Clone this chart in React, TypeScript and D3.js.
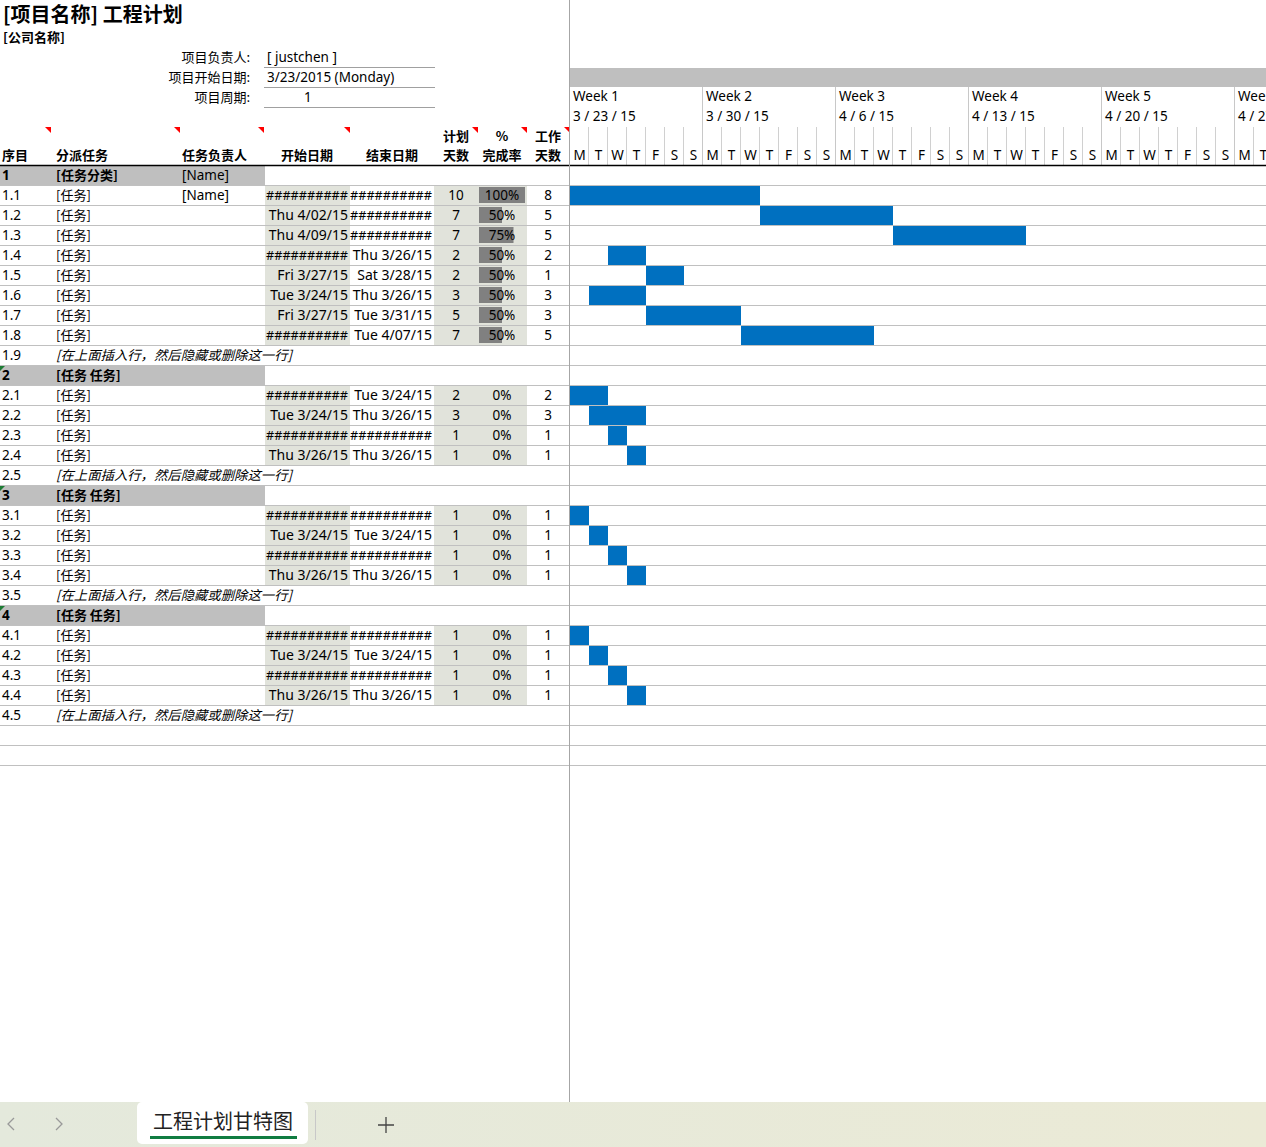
import React from 'react';
import * as d3 from 'd3';

const groupIds = ['1', '2', '3', '4'];
const groupNames = ['[任务分类]', '[任务 任务]', '[任务 任务]', '[任务 任务]'];
const groupOwners = ['[Name]', '', '', ''];
const groupSizes = [8, 4, 4, 4];
const noteIds = ['1.9', '2.5', '3.5', '4.5'];
const noteText = '[在上面插入行，然后隐藏或删除这一行]';

const taskIds = ['1.1', '1.2', '1.3', '1.4', '1.5', '1.6', '1.7', '1.8', '2.1', '2.2', '2.3', '2.4', '3.1', '3.2', '3.3', '3.4', '4.1', '4.2', '4.3', '4.4'];
const taskNames = ['[任务]', '[任务]', '[任务]', '[任务]', '[任务]', '[任务]', '[任务]', '[任务]', '[任务]', '[任务]', '[任务]', '[任务]', '[任务]', '[任务]', '[任务]', '[任务]', '[任务]', '[任务]', '[任务]', '[任务]'];
const taskOwners = ['[Name]', '', '', '', '', '', '', '', '', '', '', '', '', '', '', '', '', '', '', ''];
const H = '##########';
const startLabels = [H, 'Thu 4/02/15', 'Thu 4/09/15', H, 'Fri 3/27/15', 'Tue 3/24/15', 'Fri 3/27/15', H, H, 'Tue 3/24/15', H, 'Thu 3/26/15', H, 'Tue 3/24/15', H, 'Thu 3/26/15', H, 'Tue 3/24/15', H, 'Thu 3/26/15'];
const endLabels = [H, H, H, 'Thu 3/26/15', 'Sat 3/28/15', 'Thu 3/26/15', 'Tue 3/31/15', 'Tue 4/07/15', 'Tue 3/24/15', 'Thu 3/26/15', H, 'Thu 3/26/15', H, 'Tue 3/24/15', H, 'Thu 3/26/15', H, 'Tue 3/24/15', H, 'Thu 3/26/15'];
const startDays = [0, 10, 17, 2, 4, 1, 4, 9, 0, 1, 2, 3, 0, 1, 2, 3, 0, 1, 2, 3];
const planDays = [10, 7, 7, 2, 2, 3, 5, 7, 2, 3, 1, 1, 1, 1, 1, 1, 1, 1, 1, 1];
const percentDone = [100, 50, 75, 50, 50, 50, 50, 50, 0, 0, 0, 0, 0, 0, 0, 0, 0, 0, 0, 0];
const workDays = [8, 5, 5, 2, 1, 3, 3, 5, 2, 3, 1, 1, 1, 1, 1, 1, 1, 1, 1, 1];

const weekLabels = ['Week 1', 'Week 2', 'Week 3', 'Week 4', 'Week 5', 'Week 6'];
const weekDates = ['3 / 23 / 15', '3 / 30 / 15', '4 / 6 / 15', '4 / 13 / 15', '4 / 20 / 15', '4 / 27 / 15'];
const dayLetters = ['M', 'T', 'W', 'T', 'F', 'S', 'S'];

const infoLabels = ['项目负责人:', '项目开始日期:', '项目周期:'];
const infoValues = ['[ justchen ]', '3/23/2015 (Monday)', '1'];

const FONT = "'Segoe UI', 'Noto Sans', 'Noto Sans CJK SC', sans-serif";
const CJK = "'Noto Sans CJK SC', 'Noto Sans', sans-serif";
const W = 1266;
const HGT = 1147;
const GX = 570;
const HEADER_Y = 165;
const ROW_H = 20;
const SHADE = '#e1e3db';
const LINE = '#c0c0c0';
const BAR = '#0070c0';

type Row =
  | { kind: 'group'; g: number }
  | { kind: 'task'; t: number }
  | { kind: 'note'; g: number }
  | { kind: 'blank' };

function buildRows(): Row[] {
  const rows: Row[] = [];
  let t = 0;
  groupSizes.forEach((n, g) => {
    rows.push({ kind: 'group', g });
    for (let k = 0; k < n; k++) rows.push({ kind: 'task', t: t++ });
    rows.push({ kind: 'note', g });
  });
  rows.push({ kind: 'blank' });
  rows.push({ kind: 'blank' });
  return rows;
}

function DateLabel({ x, y, label }: { x: number; y: number; label: string }) {
  if (label === H) {
    return (
      <text x={x} y={y} dy="0.35em" fontSize={13} textAnchor="end" textLength={82} lengthAdjust="spacingAndGlyphs">{label}</text>
    );
  }
  return <text x={x} y={y} dy="0.35em" fontSize={14} textAnchor="end">{label}</text>;
}

export default function App() {
  const rows = buildRows();
  const yRow = d3.scaleLinear().domain([0, 1]).range([HEADER_Y, HEADER_Y + ROW_H]);
  const xDay = d3.scaleLinear().domain([0, 1]).range([GX, GX + 19]);
  const pctScale = d3.scaleLinear().domain([0, 100]).range([0, 46]);
  const nDays = 42;

  const tri = (x: number, y: number, color: string, s = 6) => (
    <path d={`M${x - s},${y} L${x},${y} L${x},${y + s} Z`} fill={color} />
  );
  const triL = (x: number, y: number, color: string, s = 6) => (
    <path d={`M${x},${y} L${x + s},${y} L${x},${y + s} Z`} fill={color} />
  );

  return (
    <svg width={W} height={HGT} style={{ position: 'absolute', left: 0, top: 0, background: '#fff' }} fontFamily={FONT}>
      <defs>
        <clipPath id="gclip"><rect x={GX} y={0} width={W - GX} height={1102} /></clipPath>
        <linearGradient id="tabbg" x1="0" x2="1" y1="0" y2="0">
          <stop offset="0" stopColor="#e4e9dc" />
          <stop offset="1" stopColor="#ebead6" />
        </linearGradient>
      </defs>
      <rect x={0} y={0} width={W} height={HGT} fill="#fff" />

      {/* Title */}
      <text x={3} y={22} fontSize={20} fontWeight="bold" fontFamily={CJK}>[项目名称] 工程计划</text>
      <text x={3} y={42} fontSize={13} fontWeight="bold" fontFamily={CJK}>[公司名称]</text>
      {infoLabels.map((l, i) => (
        <g key={l}>
          <text x={250} y={57 + i * 20} dy="0.35em" fontSize={13} textAnchor="end" fontFamily={CJK}>{l}</text>
          <text x={i === 2 ? 304 : 267} y={57 + i * 20} dy="0.35em" fontSize={13.5}>{infoValues[i]}</text>
          <line x1={264} x2={435} y1={67.5 + i * 20} y2={67.5 + i * 20} stroke="#a0a0a0" />
        </g>
      ))}

      {/* Column header */}
      {[
        { t: '序目', x: 2, a: 'start' },
        { t: '分派任务', x: 56, a: 'start' },
        { t: '任务负责人', x: 182, a: 'start' },
        { t: '开始日期', x: 307, a: 'middle' },
        { t: '结束日期', x: 392, a: 'middle' },
      ].map((h) => (
        <text key={h.t} x={h.x} y={155} dy="0.35em" fontSize={13} fontWeight="bold" textAnchor={h.a as any} fontFamily={CJK}>{h.t}</text>
      ))}
      {[
        { a: '计划', b: '天数', x: 456 },
        { a: '%', b: '完成率', x: 502 },
        { a: '工作', b: '天数', x: 548 },
      ].map((h) => (
        <g key={h.b + h.x}>
          <text x={h.x} y={136} dy="0.35em" fontSize={13} fontWeight="bold" textAnchor="middle" fontFamily={CJK}>{h.a}</text>
          <text x={h.x} y={155} dy="0.35em" fontSize={13} fontWeight="bold" textAnchor="middle" fontFamily={CJK}>{h.b}</text>
        </g>
      ))}
      {[51, 180, 264, 350, 478, 527, 570].map((x) => (
        <g key={'rt' + x}>{tri(x, 127, '#ff0000', 6)}</g>
      ))}

      {/* Gantt header */}
      <g clipPath="url(#gclip)">
        <rect x={GX} y={68} width={W - GX} height={19} fill="#bfbfbf" />
        {weekLabels.map((w, i) => (
          <g key={w}>
            <text x={xDay(i * 7) + 3} y={96} dy="0.35em" fontSize={13.5}>{w}</text>
            <text x={xDay(i * 7) + 3} y={116} dy="0.35em" fontSize={13.5}>{weekDates[i]}</text>
            {i > 0 && <line x1={xDay(i * 7) - 0.5} x2={xDay(i * 7) - 0.5} y1={87} y2={HEADER_Y} stroke="#c8c8c8" />}
          </g>
        ))}
        {d3.range(nDays).map((d) => (
          <g key={'d' + d}>
            {d % 7 !== 0 && <line x1={xDay(d) - 0.5} x2={xDay(d) - 0.5} y1={127} y2={HEADER_Y} stroke="#d0d0d0" />}
            <text x={xDay(d + 0.5)} y={155} dy="0.35em" fontSize={13.5} textAnchor="middle">{dayLetters[d % 7]}</text>
          </g>
        ))}
      </g>

      {/* Rows */}
      {rows.map((r, i) => {
        const y0 = yRow(i);
        const cy = y0 + ROW_H / 2;
        if (r.kind === 'group') {
          return (
            <g key={'r' + i}>
              <rect x={0} y={y0} width={265} height={ROW_H} fill="#bfbfbf" />
              <text x={2} y={cy} dy="0.35em" fontSize={13.5} fontWeight="bold">{groupIds[r.g]}</text>
              <text x={56} y={cy} dy="0.35em" fontSize={13} fontWeight="bold" fontFamily={CJK}>{groupNames[r.g]}</text>
              <text x={182} y={cy} dy="0.35em" fontSize={13.5}>{groupOwners[r.g]}</text>
              {r.g > 0 && triL(0, y0, '#1e7b34', 6)}
            </g>
          );
        }
        if (r.kind === 'note') {
          return (
            <g key={'r' + i}>
              <text x={2} y={cy} dy="0.35em" fontSize={13.5}>{noteIds[r.g]}</text>
              <text x={56} y={cy} dy="0.35em" fontSize={13} fontStyle="italic" fontFamily={CJK} textLength={236} lengthAdjust="spacingAndGlyphs">{noteText}</text>
            </g>
          );
        }
        if (r.kind === 'blank') return null;
        const t = r.t;
        return (
          <g key={'r' + i}>
            <rect x={265} y={y0} width={85} height={ROW_H} fill={SHADE} />
            <rect x={434} y={y0} width={93} height={ROW_H} fill={SHADE} />
            {percentDone[t] > 0 && (
              <rect x={479} y={y0 + 2} width={pctScale(percentDone[t])} height={ROW_H - 4} fill="#808080" />
            )}
            <text x={2} y={cy} dy="0.35em" fontSize={13.5}>{taskIds[t]}</text>
            <text x={56} y={cy} dy="0.35em" fontSize={13} fontFamily={CJK}>{taskNames[t]}</text>
            <text x={182} y={cy} dy="0.35em" fontSize={13.5}>{taskOwners[t]}</text>
            <DateLabel x={348} y={cy} label={startLabels[t]} />
            <DateLabel x={432} y={cy} label={endLabels[t]} />
            <text x={456} y={cy} dy="0.35em" fontSize={13.5} textAnchor="middle">{planDays[t]}</text>
            <text x={502} y={cy} dy="0.35em" fontSize={13.5} textAnchor="middle">{percentDone[t]}%</text>
            <text x={548} y={cy} dy="0.35em" fontSize={13.5} textAnchor="middle">{workDays[t]}</text>
            <rect x={xDay(startDays[t])} y={y0 + 1} width={xDay(startDays[t] + planDays[t]) - xDay(startDays[t])} height={ROW_H - 1} fill={BAR} />
          </g>
        );
      })}

      {/* Row lines */}
      {rows.map((_, i) => (
        <line key={'l' + i} x1={0} x2={W} y1={yRow(i + 1) + 0.5} y2={yRow(i + 1) + 0.5} stroke={LINE} />
      ))}
      <line x1={0} x2={W} y1={HEADER_Y + 0.5} y2={HEADER_Y + 0.5} stroke="#000" strokeWidth={1.5} />

      {/* Frozen pane line */}
      <line x1={GX - 0.5} x2={GX - 0.5} y1={0} y2={1102} stroke="#a6a6a6" />

      {/* Sheet tabs */}
      <rect x={0} y={1102} width={W} height={45} fill="url(#tabbg)" />
      <rect x={137} y={1102} width={171} height={42} rx={5} fill="#fff" />
      <text x={223} y={1122} dy="0.35em" fontSize={20} textAnchor="middle" fontFamily={CJK} fill="#222">工程计划甘特图</text>
      <rect x={150} y={1136} width={147} height={3} fill="#107c41" />
      <line x1={315.5} x2={315.5} y1={1110} y2={1140} stroke="#c8c8c8" />
      <path d="M14,1118 L8,1124 L14,1130" fill="none" stroke="#999" strokeWidth={1.3} />
      <path d="M56,1118 L62,1124 L56,1130" fill="none" stroke="#999" strokeWidth={1.3} />
      <path d="M378,1125 L394,1125 M386,1117 L386,1133" stroke="#444" strokeWidth={1.3} />
    </svg>
  );
}
